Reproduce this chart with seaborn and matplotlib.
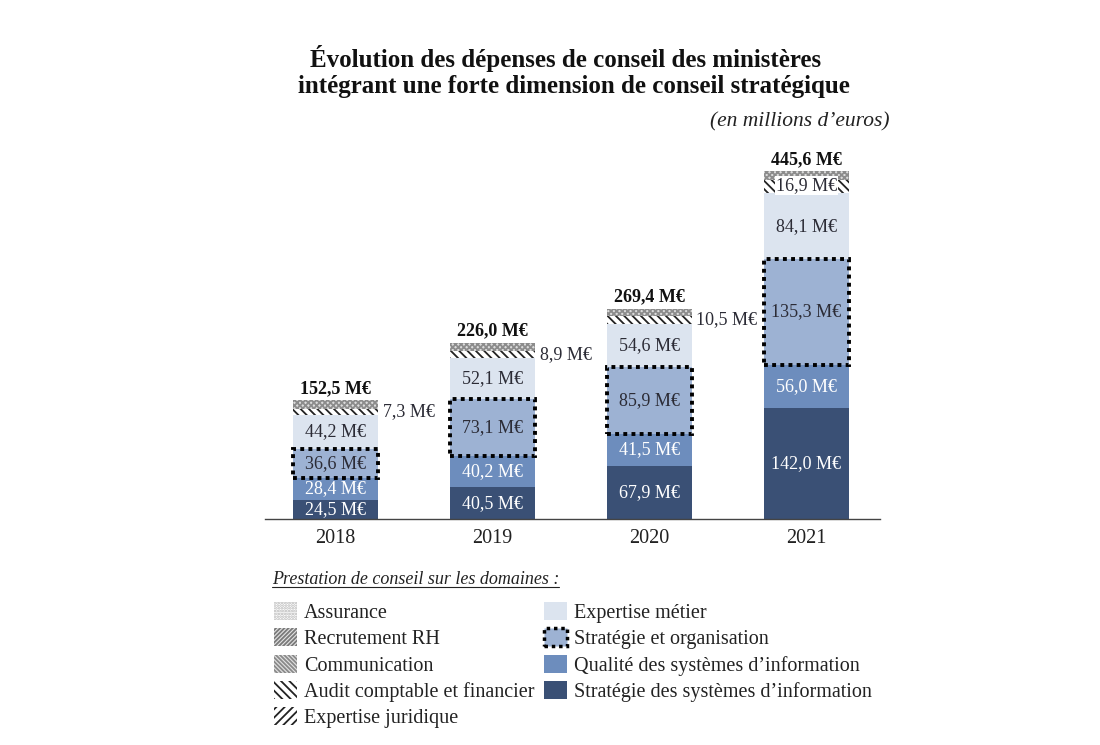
import matplotlib
matplotlib.use("Agg")
import matplotlib.pyplot as plt
import matplotlib.patches as mpatches
from matplotlib.lines import Line2D
import seaborn as sns
import pandas as pd
import numpy as np

# ---------------- data ----------------
years = ["2018", "2019", "2020", "2021"]
strategie_si = [24.5, 40.5, 67.9, 142.0]
qualite_si = [28.4, 40.2, 41.5, 56.0]
strategie_org = [36.6, 73.1, 85.9, 135.3]
expertise_metier = [44.2, 52.1, 54.6, 84.1]
audit_juridique = [7.3, 8.9, 10.5, 16.9]
petits_domaines = [11.5, 11.2, 9.0, 11.3]   # assurance / recrutement / communication (non étiquetés)
totaux = [152.5, 226.0, 269.4, 445.6]

legend_labels = ["Assurance", "Recrutement RH", "Communication",
                 "Audit comptable et financier", "Expertise juridique",
                 "Expertise métier", "Stratégie et organisation",
                 "Qualité des systèmes d’information",
                 "Stratégie des systèmes d’information"]

def fmt(v):
    return f"{v:.1f}".replace(".", ",") + " M€"

# ---------------- style ----------------
sns.set_theme(style="white")
plt.rcParams["font.family"] = ["Liberation Serif", "DejaVu Serif"]
plt.rcParams["hatch.linewidth"] = 1.3

c_dark = "#3a5075"
c_med = "#6d8dbd"
c_light = "#9db2d3"
c_pale = "#dce4ef"
txt_dark = "#2b2b35"

df = pd.DataFrame({"annee": years, "ssi": strategie_si, "qsi": qualite_si,
                   "org": strategie_org, "met": expertise_metier,
                   "aud": audit_juridique, "pet": petits_domaines})

fig = plt.figure(figsize=(11, 7.45), dpi=100)
ax = fig.add_axes([265 / 1100, 1 - 519 / 745, 615 / 1100, 369 / 745])

W = 0.54
layers = [
    ("ssi", dict(color=c_dark, linewidth=0), "white", 2),
    ("qsi", dict(color=c_med, linewidth=0), "white", 2),
    ("org", dict(color=c_light, edgecolor="black", linewidth=2.8,
                 linestyle=(0, (1, 1.1))), txt_dark, 4),
    ("met", dict(color=c_pale, linewidth=0), txt_dark, 2),
    ("aud", dict(color="white", edgecolor="#222222", hatch="\\\\\\\\", linewidth=0), None, 2),
    ("pet", dict(color="#dcdcdc", edgecolor="#8c8c8c", hatch="xxxxxx", linewidth=0), None, 2),
]

bottom = np.zeros(len(years))
for col, kw, tcolor, z in layers:
    vals = df[col].to_numpy()
    sns.barplot(data=df, x="annee", y=col, ax=ax, width=W, saturation=1,
                errorbar=None, bottom=bottom.copy(), zorder=z, **kw)
    if tcolor is not None:
        for i, v in enumerate(vals):
            ax.text(i, bottom[i] + v / 2, fmt(v), ha="center", va="center",
                    fontsize=13, color=tcolor, zorder=6)
    if col == "aud":
        for i, v in enumerate(vals):
            yc = bottom[i] + v / 2
            if i < 3:
                ax.text(i + W / 2 + 0.03, yc, fmt(v), ha="left", va="center",
                        fontsize=13, color=txt_dark, zorder=6)
            else:
                ax.text(i, yc + 2, fmt(v), ha="center", va="center",
                        fontsize=13, color=txt_dark, zorder=6,
                        bbox=dict(boxstyle="square,pad=0.05", fc="white", ec="none"))
    bottom += vals

for i, t in enumerate(totaux):
    ax.text(i, t + 4, fmt(t), ha="center", va="bottom", fontsize=13,
            fontweight="bold", color="#111111")

ax.set_xlim(-0.45, 3.47)
ax.set_ylim(0, 473)
ax.set_xlabel("")
ax.set_ylabel("")
ax.set_yticks([])
for s in ["left", "top", "right"]:
    ax.spines[s].set_visible(False)
ax.spines["bottom"].set_color("#444444")
ax.spines["bottom"].set_linewidth(1.0)
ax.tick_params(axis="x", length=0, pad=7, labelsize=14.5, labelcolor="#222222")

# ---------------- titles ----------------
fig.text(566 / 1100, 1 - 59 / 745, "Évolution des dépenses de conseil des ministères",
         ha="center", va="center", fontsize=18, fontweight="bold", color="#111111")
fig.text(574 / 1100, 1 - 86 / 745, "intégrant une forte dimension de conseil stratégique",
         ha="center", va="center", fontsize=18, fontweight="bold", color="#111111")
fig.text(890 / 1100, 1 - 122 / 745, "(en millions d’euros)", ha="right", va="center",
         fontsize=15.5, style="italic", color="#222222")

# ---------------- legend ----------------
ltitle = fig.text(272 / 1100, 1 - 580 / 745, "Prestation de conseil sur les domaines :",
                  ha="left", va="center", fontsize=13, style="italic", color="#222222")

handles = [
    mpatches.Patch(facecolor="white", edgecolor="#b5b5b5", hatch="......", linewidth=0),
    mpatches.Patch(facecolor="#e2e2e2", edgecolor="#7a7a7a", hatch="////////", linewidth=0),
    mpatches.Patch(facecolor="#e2e2e2", edgecolor="#8a8a8a", hatch="\\\\\\\\\\\\\\\\", linewidth=0),
    mpatches.Patch(facecolor="white", edgecolor="#222222", hatch="\\\\\\\\", linewidth=0),
    mpatches.Patch(facecolor="white", edgecolor="#222222", hatch="////", linewidth=0),
    mpatches.Patch(facecolor=c_pale, linewidth=0),
    mpatches.Patch(facecolor=c_light, edgecolor="black", linewidth=2.5, linestyle=(0, (1, 1.1))),
    mpatches.Patch(facecolor=c_med, linewidth=0),
    mpatches.Patch(facecolor=c_dark, linewidth=0),
]
leg = fig.legend(handles, legend_labels, loc="upper left",
                 bbox_to_anchor=(274 / 1100, 1 - 602 / 745), ncol=2, frameon=False,
                 fontsize=14.5, handlelength=1.15, handleheight=1.0, handletextpad=0.35,
                 labelspacing=0.27, columnspacing=0.45, borderpad=0, borderaxespad=0)
for t in leg.get_texts():
    t.set_color("#222222")

fig.canvas.draw()
bb = ltitle.get_window_extent().transformed(fig.transFigure.inverted())
fig.add_artist(Line2D([bb.x0, bb.x1], [bb.y0 + 0.002, bb.y0 + 0.002],
                      transform=fig.transFigure, color="#222222", linewidth=0.8))

fig.savefig("out.png", dpi=100)
